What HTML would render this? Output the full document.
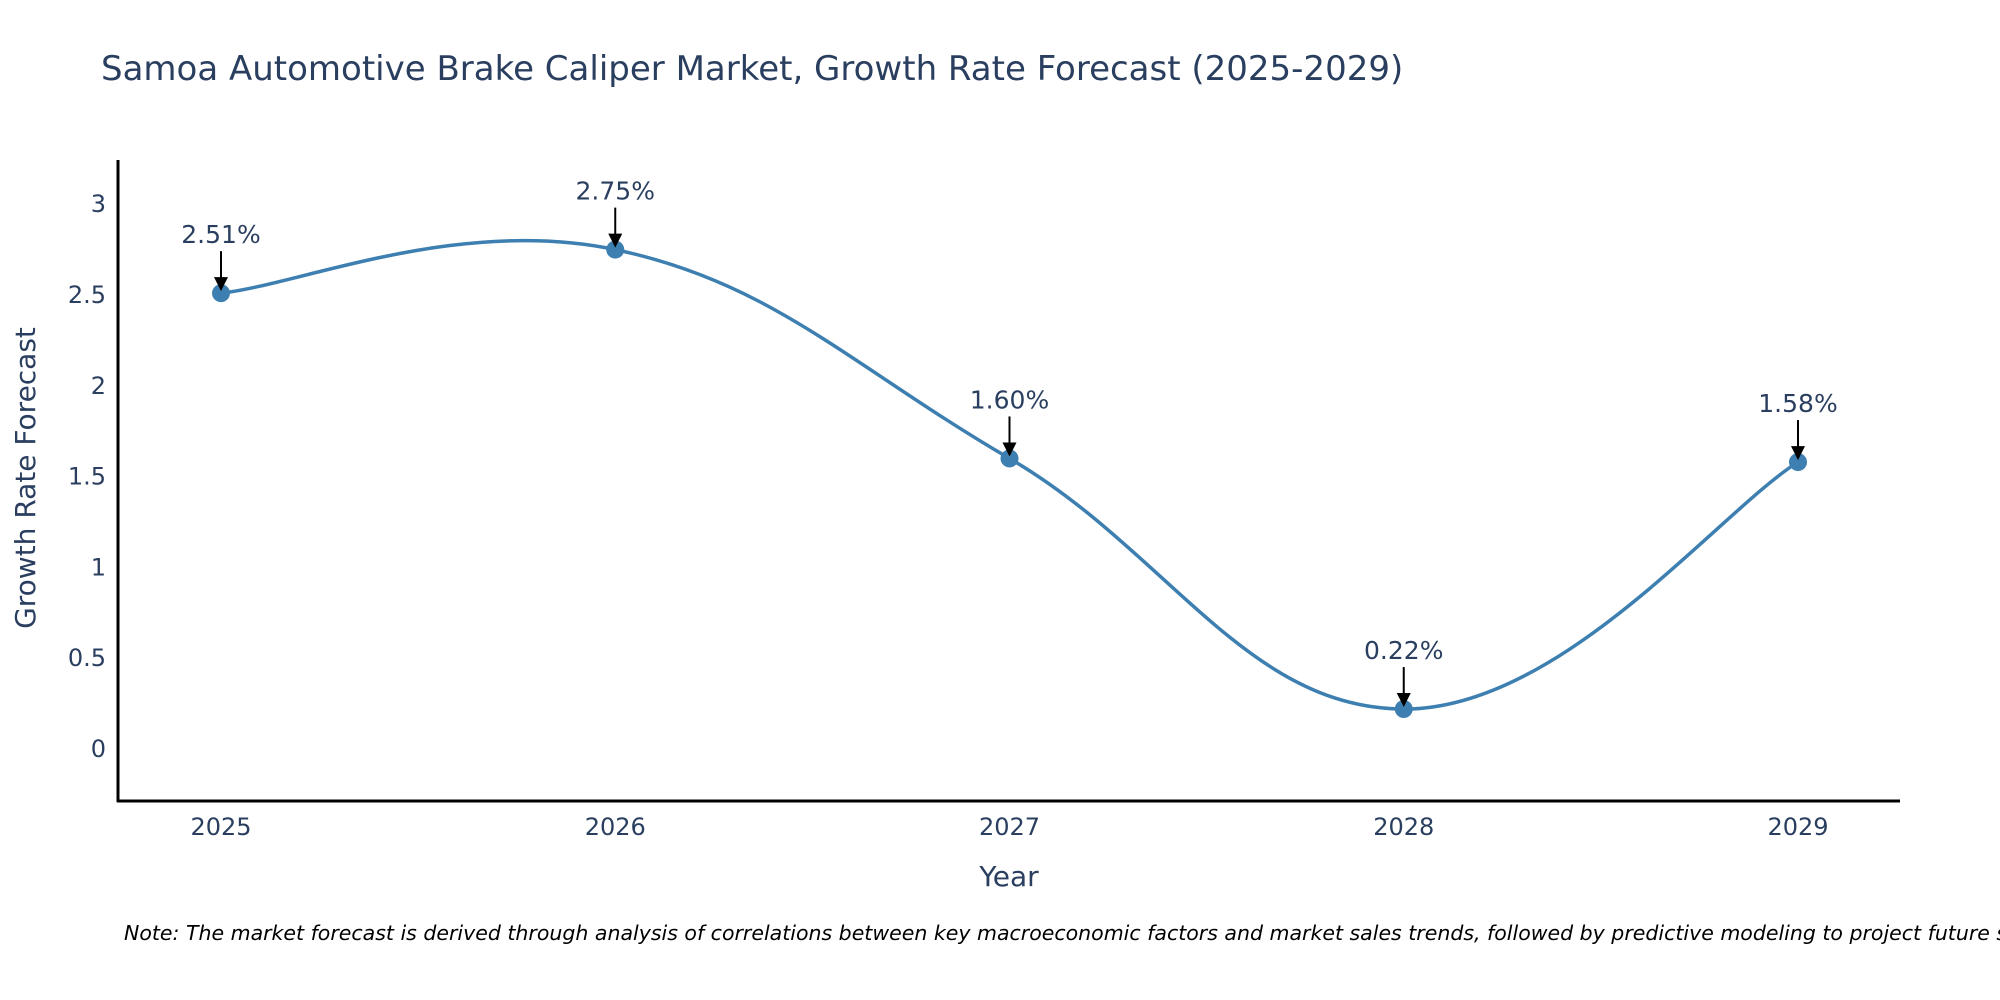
<!DOCTYPE html>
<html><head><meta charset="utf-8"><style>
html,body{margin:0;padding:0;background:#fff;}
svg{display:block;font-family:"DejaVu Sans","Liberation Sans",sans-serif;}
</style></head><body>
<svg id="chart" width="2000" height="1000">
<text x="101" y="80" font-size="34" fill="#2a3f5f">Samoa Automotive Brake Caliper Market, Growth Rate Forecast (2025-2029)</text>
<g id="yticks"></g>
<g id="xticks"></g>
<line x1="118" y1="160" x2="118" y2="802" stroke="#000" stroke-width="3"/>
<line x1="117" y1="801" x2="1900" y2="801" stroke="#000" stroke-width="3"/>
<path id="line" fill="none" stroke="#3d7fb0" stroke-width="3.5"/>
<g id="marks"></g>
<text x="1009" y="886" font-size="28" fill="#2a3f5f" text-anchor="middle">Year</text>
<text transform="translate(35,478) rotate(-90)" font-size="28" fill="#2a3f5f" text-anchor="middle">Growth Rate Forecast</text>
<text x="124" y="940" font-size="20.5" font-style="italic" fill="#000">Note: The market forecast is derived through analysis of correlations between key macroeconomic factors and market sales trends, followed by predictive modeling to project future sales.</text>
</svg>
<script>
const years=[2025,2026,2027,2028,2029];
const values=[2.51,2.75,1.60,0.22,1.58];
const labels=["2.51%","2.75%","1.60%","0.22%","1.58%"];
const yTicks=[0,0.5,1,1.5,2,2.5,3];
const NS="http://www.w3.org/2000/svg";
function xs(y){return 221+(y-2025)*394.25;}
function ys(v){return 749-v*181.6;}
function mk(t,a){const e=document.createElementNS(NS,t);for(const k in a)e.setAttribute(k,a[k]);return e;}
const yt=document.getElementById('yticks');
yTicks.forEach(v=>{const t=mk('text',{x:106,y:ys(v)+8,'font-size':24,fill:'#2a3f5f','text-anchor':'end'});


t.textContent=String(v);yt.appendChild(t);});
const xt=document.getElementById('xticks');
years.forEach(y=>{const t=mk('text',{x:xs(y),y:835,'font-size':24,fill:'#2a3f5f','text-anchor':'middle'});


t.textContent=String(y);xt.appendChild(t);});
const P=years.map((y,i)=>[xs(y),ys(values[i])]);
let d='M'+P[0][0]+','+P[0][1];const s=0.2;
for(let i=0;i<P.length-1;i++){const p0=P[Math.max(i-1,0)],p1=P[i],p2=P[i+1],p3=P[Math.min(i+2,P.length-1)];
const c1=[p1[0]+(p2[0]-p0[0])*s,p1[1]+(p2[1]-p0[1])*s],c2=[p2[0]-(p3[0]-p1[0])*s,p2[1]-(p3[1]-p1[1])*s];
d+=' C'+c1+' '+c2+' '+p2;}
document.getElementById('line').setAttribute('d',d);
const g=document.getElementById('marks');
P.forEach((p,i)=>{const c=mk('circle',{cx:p[0],cy:p[1],r:9,fill:'#3d7fb0'});


g.appendChild(c);
const a=mk('line',{x1:p[0],y1:p[1]-42,x2:p[0],y2:p[1]-14,stroke:'#000','stroke-width':2});


g.appendChild(a);
const h=mk('path',{d:'M'+(p[0]-7)+','+(p[1]-16)+' L'+(p[0]+7)+','+(p[1]-16)+' L'+p[0]+','+(p[1]-2)+' Z',fill:'#000'});


g.appendChild(h);
const t=mk('text',{x:p[0],y:p[1]-50,'font-size':25,fill:'#2a3f5f','text-anchor':'middle'});


t.textContent=labels[i];g.appendChild(t);});
</script>
</body></html>
